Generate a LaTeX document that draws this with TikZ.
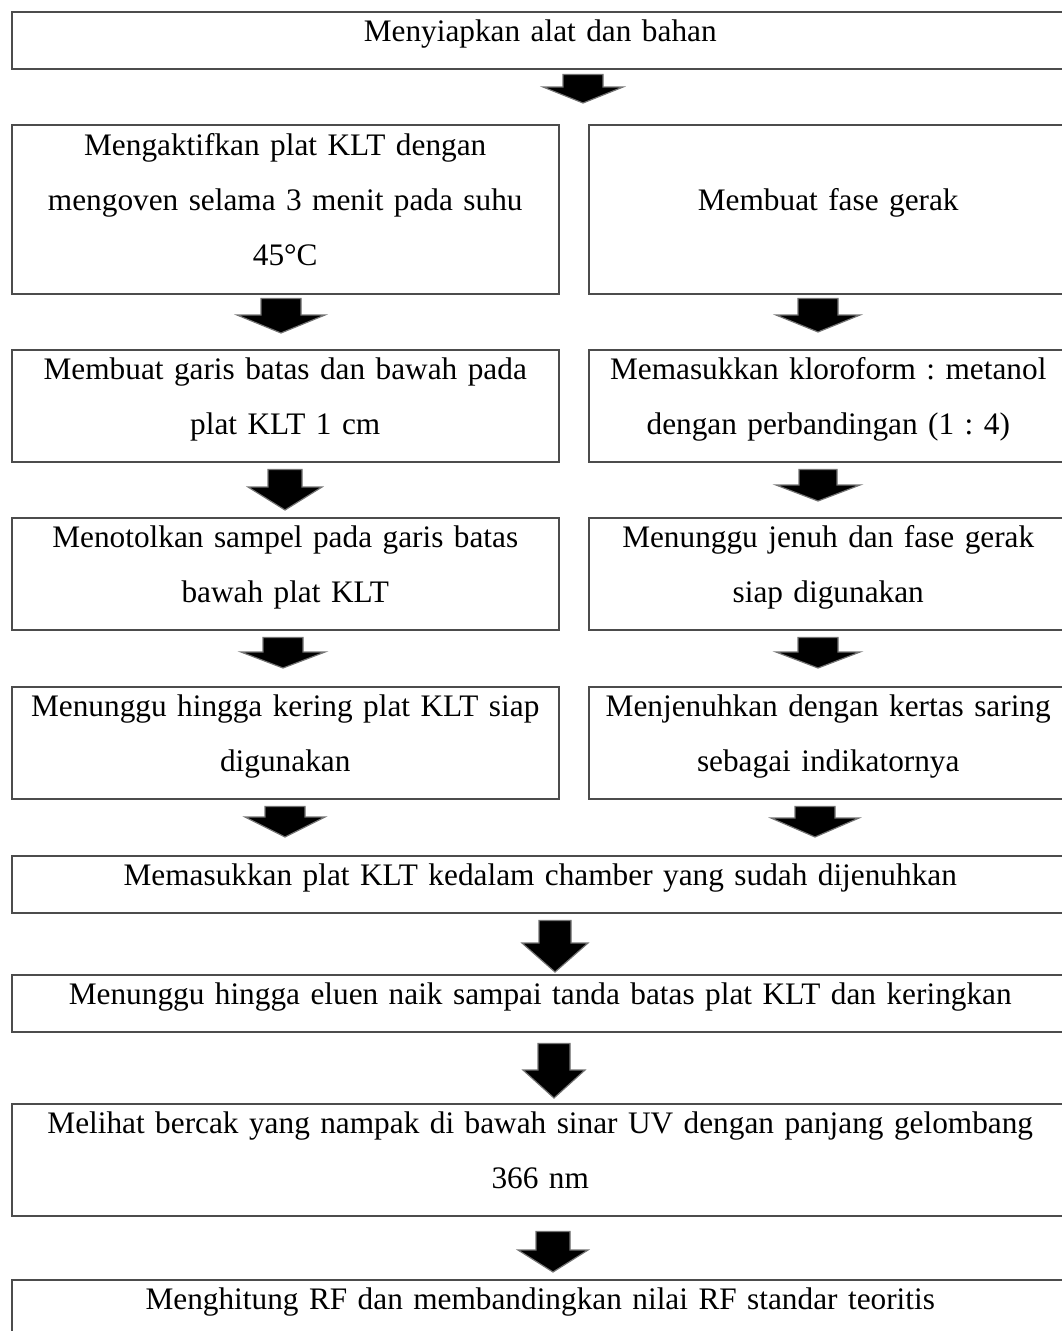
\documentclass[tikz,border=0pt]{standalone}
\usepackage{fontspec}
\setmainfont{Liberation Serif}
\usepackage{tikz}
\usetikzlibrary{calc}

\tikzset{
  flowbox/.style={draw=black!70, line width=1.5pt, anchor=north west,
    inner xsep=0pt, inner ysep=1pt, align=center,
    font=\fontsize{31.3}{55}\selectfont\frenchspacing,
    execute at begin node={\noindent\rule[-26pt]{0pt}{55pt}},
    execute at end node={\rule[-26pt]{0pt}{55pt}}},
  flowarr/.style={fill=black, draw=black!55, line width=1.2pt, line join=miter}
}

% from, to, x, gap above, gap below, shaft, head, head length
\newcommand{\flowarrow}[8]{%
  \draw[flowarr] let \p1=(#1.south), \p2=(#2.north) in
    (#3pt-#6pt, \y1-#4pt) -- (#3pt+#6pt, \y1-#4pt) -- (#3pt+#6pt, \y2+#5pt+#8pt)
    -- (#3pt+#7pt, \y2+#5pt+#8pt) -- (#3pt, \y2+#5pt) -- (#3pt-#7pt, \y2+#5pt+#8pt)
    -- (#3pt-#6pt, \y2+#5pt+#8pt) -- cycle;
}

\begin{document}
\begin{tikzpicture}[x=1pt,y=1pt]

\useasboundingbox (0,0) rectangle (1062,-1331);

\node[flowbox, text width=1057pt] (alat) at (11,-11) {Menyiapkan alat dan bahan};

% left column
\node[flowbox, text width=547pt, minimum height=169pt] (aktif) at (11,-124)
  {Mengaktifkan plat KLT dengan\\ mengoven selama 3 menit pada suhu\\ 45\textdegree C};
\node[flowbox, text width=547pt] (batas) at (11,-349)
  {Membuat garis batas dan bawah pada\\ plat KLT 1 cm};
\node[flowbox, text width=547pt] (totol) at (11,-517)
  {Menotolkan sampel pada garis batas\\ bawah plat KLT};
\node[flowbox, text width=547pt] (kering) at (11,-686)
  {Menunggu hingga kering plat KLT siap\\ digunakan};

% right column
\node[flowbox, text width=479pt, minimum height=169pt] (fase) at (588,-124)
  {Membuat fase gerak};
\node[flowbox, text width=479pt] (kloro) at (588,-349)
  {Memasukkan kloroform : metanol\\ dengan perbandingan (1 : 4)};
\node[flowbox, text width=479pt] (jenuh) at (588,-517)
  {Menunggu jenuh dan fase gerak\\ siap digunakan};
\node[flowbox, text width=479pt] (saring) at (588,-686)
  {Menjenuhkan dengan kertas saring\\ sebagai indikatornya};

\node[flowbox, text width=1057pt] (chamber) at (11,-855)
  {Memasukkan plat KLT kedalam chamber yang sudah dijenuhkan};
\node[flowbox, text width=1057pt] (eluen) at (11,-974)
  {Menunggu hingga eluen naik sampai tanda batas plat KLT dan keringkan};
\node[flowbox, text width=1057pt] (bercak) at (11,-1103)
  {Melihat bercak yang nampak di bawah sinar UV dengan panjang gelombang\\ 366 nm};
\node[flowbox, text width=1057pt] (rf) at (11,-1279)
  {Menghitung RF dan membandingkan nilai RF standar teoritis};

\flowarrow{alat}{aktif}{583}{5}{21}{20}{40}{16}

\flowarrow{aktif}{batas}{281}{4}{16}{20}{44}{18}
\flowarrow{batas}{totol}{285}{7}{7}{17}{37}{23}
\flowarrow{totol}{kering}{283}{7}{18}{20}{42}{16}
\flowarrow{kering}{chamber}{285}{7}{18}{20}{40}{20}

\flowarrow{fase}{kloro}{818}{4}{17}{20}{42}{17}
\flowarrow{kloro}{jenuh}{818}{7}{16}{19}{42}{16}
\flowarrow{jenuh}{saring}{818}{7}{18}{20}{42}{16}
\flowarrow{saring}{chamber}{815}{7}{18}{20}{44}{19}

\flowarrow{chamber}{eluen}{555}{7}{2}{16}{33}{29}
\flowarrow{eluen}{bercak}{554}{11}{5}{16}{31}{28}
\flowarrow{bercak}{rf}{553}{15}{7}{17}{35}{22}

\end{tikzpicture}
\end{document}
